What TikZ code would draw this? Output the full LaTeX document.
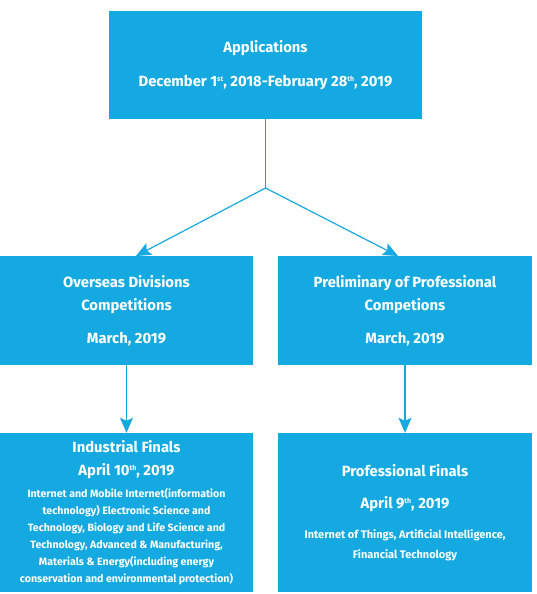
\documentclass[tikz,border=0pt]{standalone}
\usepackage{fontspec}
\setmainfont{Fira Sans}
\usetikzlibrary{arrows.meta}
\definecolor{StageBlue}{HTML}{15A9E1}
\newcommand{\bigline}{\fontsize{14.8}{17}\selectfont}
\newcommand{\ordsup}[1]{\raisebox{5pt}{\fontsize{7}{7}\selectfont #1}}

\tikzset{
  stagebox/.style={
    fill=StageBlue,
    text=white,
    inner sep=0pt,
    align=center,
    font=\bfseries\fontsize{14.8}{17}\selectfont
  },
  stagelink/.style={
    draw=StageBlue,
    line width=1.2pt,
    -{Stealth[width=13pt,length=15pt,inset=3pt]}
  }
}

\begin{document}
\begin{tikzpicture}[x=1pt,y=-1pt]
  \useasboundingbox (0,0) rectangle (536,594);
  \node[stagebox, minimum width=313pt, minimum height=108pt] (apply) at (265.5,65) {
    Applications\\[17pt]
    December 1\ordsup{st}, 2018-February 28\ordsup{th}, 2019
  };
  \node[stagebox, minimum width=253pt, minimum height=109pt] (overseas) at (126.5,310.5) {
    Overseas Divisions\\[6pt]
    Competitions\\[16pt]
    March, 2019
  };
  \node[stagebox, minimum width=254pt, minimum height=109pt] (prelim) at (405,310.5) {
    Preliminary of Professional\\[6pt]
    Competions\\[16pt]
    March, 2019
  };
  \node[stagebox, minimum width=253pt, minimum height=159pt, font=\bfseries\fontsize{10.6}{17}\selectfont] (industrial) at (126.5,512.5) {
    \bigline Industrial Finals\\[6pt]
    \bigline April 10\ordsup{th}, 2019\\[5pt]
    Internet and Mobile Internet(information\\
    technology) Electronic Science and\\
    Technology, Biology and Life Science and\\
    Technology, Advanced \& Manufacturing,\\
    Materials \& Energy(including energy\\
    conservation and environmental protection)
  };
  \node[stagebox, minimum width=254pt, minimum height=159pt, font=\bfseries\fontsize{11}{17}\selectfont] (professional) at (405,512.5) {
    \bigline Professional Finals\\[15pt]
    \bigline April 9\ordsup{th}, 2019\\[13pt]
    Internet of Things, Artificial Intelligence,\\[3pt]
    Financial Technology
  };

  \coordinate (split) at (265.5,188);
  \coordinate (tipL) at (136,256);
  \coordinate (tipR) at (398,256);
  \draw[StageBlue, line width=1.2pt] (apply.south) -- (split);
  \draw[stagelink] (split) -- (tipL);
  \draw[stagelink] (split) -- (tipR);
  \draw[stagelink] (overseas.south) -- (industrial.north);
  \draw[stagelink] (prelim.south) -- (professional.north);
\end{tikzpicture}
\end{document}
